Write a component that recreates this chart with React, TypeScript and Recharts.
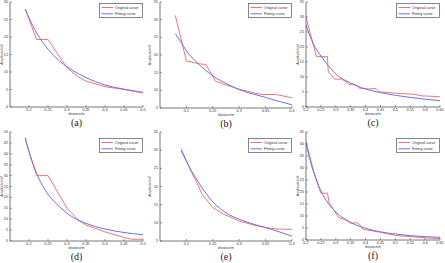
import React from "react";
import { LineChart, Line, XAxis, YAxis, Legend } from "recharts";

const SANS = "'Liberation Sans', Arial, Helvetica, sans-serif";
const SERIF = "'Liberation Serif', 'Times New Roman', serif";
const RED = "#f07676";
const BLUE = "#6f6fea";
const AXIS = "#555";
const INK = "#333";

const TICK_FONT = 3.8;
const TITLE_FONT = 3.3;
const LEGEND_FONT = 3.8;

const Y_W = 12; // room left of the plot for tick labels and the y title
const X_H = 11; // room under the plot for tick labels and the x title
const PAD = 2;
const PAD_R = 6; // keeps the last x tick label inside the svg
const TICK_LEN = 2;

// shared tick sets
const distTicksShort = [0.2, 0.25, 0.3, 0.35, 0.4, 0.45, 0.5];
const distTicksNarrow = [0.2, 0.25, 0.3, 0.35, 0.4];
const distTicksLong = [0.2, 0.25, 0.3, 0.35, 0.4, 0.45, 0.5, 0.55, 0.6, 0.65];

// (a)
const aOrigDist = [0.19, 0.22, 0.25, 0.3, 0.33, 0.35, 0.4, 0.45, 0.5];
const aOrigAmp = [28, 19.3, 19.3, 11.2, 8.6, 7.4, 5.8, 5.0, 4.0];
const aFitDist = [0.19, 0.2, 0.22, 0.25, 0.28, 0.3, 0.33, 0.35, 0.4, 0.45, 0.5];
const aFitAmp = [28, 25.5, 21.2, 16.5, 13.2, 11.5, 9.5, 8.4, 6.3, 5.1, 4.2];
const aAmpTicks = [0, 5, 10, 15, 20, 25, 30];

// (b)
const bOrigDist = [0.179, 0.2, 0.21, 0.225, 0.237, 0.255, 0.27, 0.3, 0.33, 0.345, 0.37, 0.4];
const bOrigAmp = [31.2, 18.3, 18.0, 17.5, 17.3, 12.6, 11.8, 10.3, 9.2, 8.8, 8.8, 7.9];
const bFitDist = [0.179, 0.19, 0.2, 0.22, 0.25, 0.28, 0.3, 0.33, 0.35, 0.37, 0.4];
const bFitAmp = [26, 23.6, 21.2, 17.9, 14.1, 11.6, 10.2, 8.8, 8.0, 7.1, 5.9];
const bAmpTicks = [5, 10, 15, 20, 25, 30, 35];

// (c)
const cOrigDist = [0.2, 0.235, 0.272, 0.275, 0.285, 0.295, 0.32, 0.345, 0.368, 0.378, 0.41, 0.435, 0.447, 0.47, 0.5, 0.52, 0.547, 0.565, 0.59, 0.615, 0.65];
const cOrigAmp = [30, 16.8, 16.8, 11.5, 10.8, 9.3, 9.3, 7.6, 7.4, 6.3, 6.0, 6.2, 5.0, 4.9, 4.6, 4.5, 4.3, 4.2, 3.7, 3.6, 3.4];
const cFitDist = [0.2, 0.21, 0.225, 0.25, 0.275, 0.3, 0.35, 0.4, 0.45, 0.5, 0.55, 0.6, 0.65];
const cFitAmp = [27.5, 24.5, 21, 17, 13.8, 11.0, 8.0, 6.0, 4.8, 3.9, 3.2, 2.6, 2.1];
const cAmpTicks = [0, 5, 10, 15, 20, 25, 30, 35];

// (d)
const dOrigDist = [0.19, 0.22, 0.25, 0.3, 0.33, 0.35, 0.4, 0.45, 0.47, 0.5];
const dOrigAmp = [46.5, 30, 30, 15, 9.6, 7.3, 4.2, 1.6, 0.8, 0.8];
const dFitDist = [0.19, 0.2, 0.22, 0.25, 0.28, 0.3, 0.35, 0.4, 0.45, 0.5];
const dFitAmp = [47.5, 41, 31, 21.5, 15.8, 12.7, 8.1, 5.5, 3.9, 2.9];
const dAmpTicks = [0, 5, 10, 15, 20, 25, 30, 35, 40, 45, 50];

// (e)
const eOrigDist = [0.19, 0.2, 0.21, 0.22, 0.23, 0.25, 0.27, 0.3, 0.33, 0.35, 0.37, 0.4];
const eOrigAmp = [30.5, 27, 23.8, 21, 17.8, 14.2, 12.4, 10.5, 9.3, 8.7, 8.3, 8.2];
const eFitDist = [0.19, 0.2, 0.21, 0.22, 0.25, 0.28, 0.3, 0.33, 0.35, 0.37, 0.4];
const eFitAmp = [29.8, 27, 24.2, 21.8, 15.8, 12.3, 11.0, 9.5, 8.7, 7.8, 6.3];
const eAmpTicks = [5, 10, 15, 20, 25, 30, 35];

// (f)
const fOrigDist = [0.2, 0.225, 0.25, 0.272, 0.278, 0.3, 0.31, 0.33, 0.35, 0.37, 0.38, 0.39, 0.4, 0.45, 0.5, 0.55, 0.6, 0.65];
const fOrigAmp = [41, 29, 19.5, 19.5, 15.5, 11.2, 9.3, 8.6, 7.0, 7.2, 6.4, 4.6, 4.3, 3.2, 1.9, 1.4, 0.9, 0.6];
const fFitDist = [0.2, 0.21, 0.225, 0.25, 0.275, 0.3, 0.35, 0.4, 0.45, 0.5, 0.55, 0.6, 0.65];
const fFitAmp = [40.5, 35, 28.5, 20.5, 15.2, 11.7, 7.3, 4.9, 3.4, 2.5, 1.8, 1.4, 1.1];
const fAmpTicks = [0, 5, 10, 15, 20, 25, 30, 35, 40, 45];

const seriesOrder = ["Original curve", "Fitting curve"];

type Pt = { dist: number; amp: number };
const toPoints = (dist: number[], amp: number[]): Pt[] =>
  dist.map((d, i) => ({ dist: d, amp: amp[i] }));

type Side = "bottom" | "left" | "top" | "right";

// MATLAB-style ticks: short marks pointing into the plot box
const makeTick = (side: Side, margin: number, withLabel: boolean) => (props: any) => {
  const { x, y, payload } = props;
  const v = payload.value;
  const label = (tx: number, ty: number, anchor: string, baseline: string) =>
    withLabel ? (
      <text x={tx} y={ty} textAnchor={anchor} dominantBaseline={baseline} fontSize={TICK_FONT} fill={INK} fontFamily={SANS}>
        {v}
      </text>
    ) : null;
  if (side === "bottom") {
    const ay = y - margin;
    return (
      <g>
        <line x1={x} y1={ay} x2={x} y2={ay - TICK_LEN} stroke={AXIS} strokeWidth={0.6} />
        {label(x, ay + 1.2, "middle", "hanging")}
      </g>
    );
  }
  if (side === "top") {
    const ay = y + margin;
    return <line x1={x} y1={ay} x2={x} y2={ay + TICK_LEN} stroke={AXIS} strokeWidth={0.6} />;
  }
  if (side === "left") {
    const ax = x + margin;
    return (
      <g>
        <line x1={ax} y1={y} x2={ax + TICK_LEN} y2={y} stroke={AXIS} strokeWidth={0.6} />
        {label(ax - 2, y, "end", "central")}
      </g>
    );
  }
  const ax = x - margin;
  return <line x1={ax} y1={y} x2={ax - TICK_LEN} y2={y} stroke={AXIS} strokeWidth={0.6} />;
};

const XTitle = ({ viewBox, text }: any) => {
  if (!viewBox) return null;
  return (
    <text x={viewBox.x + viewBox.width / 2} y={viewBox.y + 7.3} textAnchor="middle" dominantBaseline="central" fontSize={TITLE_FONT} fill={INK} fontFamily={SANS}>
      {text}
    </text>
  );
};

const YTitle = ({ viewBox, text, gap }: any) => {
  if (!viewBox) return null;
  const cx = viewBox.x + viewBox.width - gap;
  const cy = viewBox.y + viewBox.height / 2;
  return (
    <text x={cx} y={cy} transform={`rotate(-90 ${cx} ${cy})`} textAnchor="middle" dominantBaseline="central" fontSize={TITLE_FONT} fill={INK} fontFamily={SANS}>
      {text}
    </text>
  );
};

const LEG_W = 44;
const LEG_H = 15;

const LegendBox = ({ payload }: any) => {
  const items = [...(payload ?? [])].sort(
    (a: any, b: any) => seriesOrder.indexOf(a.value) - seriesOrder.indexOf(b.value)
  );
  const rows = [4.5, 10.8];
  return (
    <svg width={LEG_W} height={LEG_H} style={{ display: "block" }}>
      <rect x={0.5} y={0.5} width={LEG_W - 1} height={LEG_H - 1} fill="#fff" stroke={AXIS} strokeWidth={0.7} />
      {items.map((e: any, i: number) => (
        <g key={e.value}>
          <line x1={2.5} y1={rows[i]} x2={14} y2={rows[i]} stroke={e.color} strokeWidth={1} />
          <text x={16} y={rows[i]} dominantBaseline="central" fontSize={LEGEND_FONT} fill={INK} fontFamily={SANS}>
            {e.value}
          </text>
        </g>
      ))}
    </svg>
  );
};

type PanelProps = {
  caption: string;
  left: number;
  top: number;
  width: number;
  height: number;
  xDomain: [number, number];
  xTicks: number[];
  yDomain: [number, number];
  yTicks: number[];
  origDist: number[];
  origAmp: number[];
  fitDist: number[];
  fitAmp: number[];
  titleGap: number;
  legendTop: number;
};

function Panel(p: PanelProps) {
  const orig = toPoints(p.origDist, p.origAmp);
  const fit = toPoints(p.fitDist, p.fitAmp);
  const w = Y_W + p.width + PAD_R;
  const h = PAD + p.height + X_H;
  return (
    <>
      <div style={{ position: "absolute", left: p.left - Y_W, top: p.top - PAD }}>
        <LineChart width={w} height={h} margin={{ top: PAD, right: PAD_R, bottom: 0, left: 0 }}>
          <XAxis
            dataKey="dist"
            type="number"
            domain={p.xDomain}
            ticks={p.xTicks}
            interval={0}
            allowDataOverflow
            height={X_H}
            tickSize={0}
            tickMargin={1}
            tickLine={false}
            axisLine={{ stroke: AXIS, strokeWidth: 0.8 }}
            tick={makeTick("bottom", 1, true)}
            label={<XTitle text="distance/m" />}
          />
          <XAxis
            xAxisId="top"
            orientation="top"
            dataKey="dist"
            type="number"
            domain={p.xDomain}
            ticks={p.xTicks}
            interval={0}
            allowDataOverflow
            height={0}
            tickSize={0}
            tickMargin={1}
            tickLine={false}
            axisLine={{ stroke: AXIS, strokeWidth: 0.8 }}
            tick={makeTick("top", 1, false)}
          />
          <YAxis
            type="number"
            domain={p.yDomain}
            ticks={p.yTicks}
            interval={0}
            allowDataOverflow
            width={Y_W}
            tickSize={0}
            tickMargin={1}
            tickLine={false}
            axisLine={{ stroke: AXIS, strokeWidth: 0.8 }}
            tick={makeTick("left", 1, true)}
            label={<YTitle text="Amplitude/mV" gap={p.titleGap} />}
          />
          <YAxis
            yAxisId="right"
            orientation="right"
            type="number"
            domain={p.yDomain}
            ticks={p.yTicks}
            interval={0}
            allowDataOverflow
            width={0}
            tickSize={0}
            tickMargin={1}
            tickLine={false}
            axisLine={{ stroke: AXIS, strokeWidth: 0.8 }}
            tick={makeTick("right", 1, false)}
          />
          <Legend
            layout="horizontal"
            verticalAlign="middle"
            align="center"
            wrapperStyle={{ left: Y_W + p.width - LEG_W, top: PAD + p.legendTop, width: LEG_W, height: LEG_H }}
            content={<LegendBox />}
          />
          <Line
            data={orig}
            dataKey="amp"
            name="Original curve"
            type="linear"
            stroke={RED}
            strokeWidth={1}
            dot={false}
            isAnimationActive={false}
          />
          <Line
            data={fit}
            dataKey="amp"
            name="Fitting curve"
            type="monotone"
            stroke={BLUE}
            strokeWidth={1}
            dot={false}
            isAnimationActive={false}
          />
        </LineChart>
      </div>
      <div
        style={{
          position: "absolute",
          left: p.left,
          width: p.width,
          top: p.top + p.height + 11,
          height: 10,
          lineHeight: "10px",
          textAlign: "center",
          fontFamily: SERIF,
          fontSize: 10,
          color: "#222",
        }}
      >
        {p.caption}
      </div>
    </>
  );
}

const panels: PanelProps[] = [
  { caption: "(a)", left: 10, top: 2, width: 133, height: 105, xDomain: [0.15, 0.5], xTicks: distTicksShort, yDomain: [0, 30], yTicks: aAmpTicks, origDist: aOrigDist, origAmp: aOrigAmp, fitDist: aFitDist, fitAmp: aFitAmp, titleGap: 8.3, legendTop: 1 },
  { caption: "(b)", left: 160, top: 2, width: 132, height: 106, xDomain: [0.15, 0.4], xTicks: distTicksNarrow, yDomain: [5, 35], yTicks: bAmpTicks, origDist: bOrigDist, origAmp: bOrigAmp, fitDist: bFitDist, fitAmp: bFitAmp, titleGap: 10.5, legendTop: 1 },
  { caption: "(c)", left: 306, top: 2, width: 134, height: 105, xDomain: [0.2, 0.65], xTicks: distTicksLong, yDomain: [0, 35], yTicks: cAmpTicks, origDist: cOrigDist, origAmp: cOrigAmp, fitDist: cFitDist, fitAmp: cFitAmp, titleGap: 8.3, legendTop: 1 },
  { caption: "(d)", left: 10, top: 132, width: 133, height: 109, xDomain: [0.15, 0.5], xTicks: distTicksShort, yDomain: [0, 50], yTicks: dAmpTicks, origDist: dOrigDist, origAmp: dOrigAmp, fitDist: dFitDist, fitAmp: dFitAmp, titleGap: 8.3, legendTop: 5.5 },
  { caption: "(e)", left: 160, top: 132, width: 132, height: 109, xDomain: [0.15, 0.4], xTicks: distTicksNarrow, yDomain: [5, 35], yTicks: eAmpTicks, origDist: eOrigDist, origAmp: eOrigAmp, fitDist: eFitDist, fitAmp: eFitAmp, titleGap: 10.5, legendTop: 5.5 },
  { caption: "(f)", left: 306, top: 132, width: 134, height: 108, xDomain: [0.2, 0.65], xTicks: distTicksLong, yDomain: [0, 45], yTicks: fAmpTicks, origDist: fOrigDist, origAmp: fOrigAmp, fitDist: fFitDist, fitAmp: fFitAmp, titleGap: 8.3, legendTop: 5.5 },
];

export default function App() {
  return (
    <div style={{ position: "absolute", left: 0, top: 0, width: 445, height: 263, background: "#fff", overflow: "hidden" }}>
      {panels.map((p) => (
        <Panel key={p.caption} {...p} />
      ))}
    </div>
  );
}
